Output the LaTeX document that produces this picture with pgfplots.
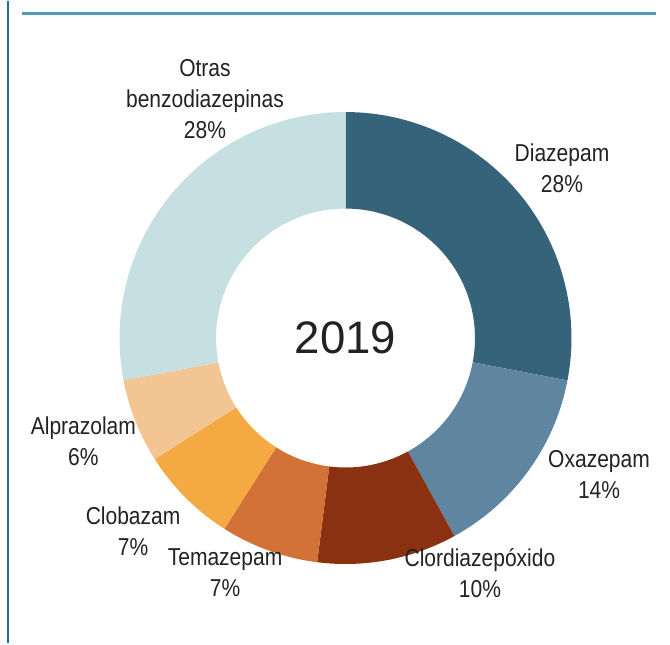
\documentclass[border=0pt]{standalone}
\usepackage{pgfplots}
\usepackage{pgfplotstable}
\pgfplotsset{compat=1.18}
\usepackage{fontspec}
\setmainfont{Liberation Sans}
\newfontfamily\condfont[FakeStretch=0.86]{Liberation Sans}

\definecolor{c0}{HTML}{35637A}
\definecolor{c1}{HTML}{5F85A1}
\definecolor{c2}{HTML}{8A3112}
\definecolor{c3}{HTML}{D27236}
\definecolor{c4}{HTML}{F4A942}
\definecolor{c5}{HTML}{F2C593}
\definecolor{c6}{HTML}{C5DFE2}
\definecolor{txt}{HTML}{222222}
\definecolor{frameblue}{HTML}{1A6FA6}
\definecolor{ruleblue}{HTML}{4F9DBA}

% share (%) per substance, clockwise from 12 o'clock; lx, ly = label centre
\pgfplotstableread[col sep=comma]{
name,value,lx,ly
Diazepam,28,0.958,0.752
Oxazepam,14,1.122,-0.606
Clordiazepóxido,10,0.595,-1.040
Temazepam,7,-0.533,-1.040
Clobazam,7,-0.940,-0.854
Alprazolam,6,-1.160,-0.456
{Otras\\benzodiazepinas},28,-0.622,1.058
}\sharetable

% start / end angle of every slice
\pgfplotstablegetrowsof{\sharetable}%
\pgfmathtruncatemacro{\lastrow}{\pgfplotsretval-1}%
\def\cumul{0}%
\pgfplotsforeachungrouped \i in {0,...,\lastrow}{%
  \pgfplotstablegetelem{\i}{value}\of\sharetable
  \let\val\pgfplotsretval
  \pgfmathsetmacro{\sa}{90-3.6*\cumul}%
  \pgfmathsetmacro{\cumul}{\cumul+\val}%
  \pgfmathsetmacro{\sb}{90-3.6*\cumul}%
  \expandafter\xdef\csname sa\i\endcsname{\sa}%
  \expandafter\xdef\csname sb\i\endcsname{\sb}%
  \expandafter\xdef\csname sv\i\endcsname{\val}%
  \pgfplotstablegetelem{\i}{lx}\of\sharetable
  \expandafter\xdef\csname lx\i\endcsname{\pgfplotsretval}%
  \pgfplotstablegetelem{\i}{ly}\of\sharetable
  \expandafter\xdef\csname ly\i\endcsname{\pgfplotsretval}%
  \pgfplotstablegetelem{\i}{name}\of\sharetable
  \expandafter\global\expandafter\let\csname ln\i\endcsname\pgfplotsretval
}

\def\rin{0.573}

\begin{document}
\begin{tikzpicture}
\begin{axis}[
  hide axis,
  scale only axis,
  axis equal image,
  width=335bp,
  xmin=-1.529, xmax=1.436,
  ymin=-1.35, ymax=1.491,
  clip=false,
]
\path (rel axis cs:0,0) rectangle (rel axis cs:1,1);
% frame pieces
\draw[frameblue, line width=1bp] (-1.493,1.491) -- (-1.493,-1.35);
\draw[ruleblue, line width=1.3bp] (-1.431,1.436) -- (1.374,1.436);

\pgfplotsinvokeforeach{0,...,6}{
  \fill[c#1]
    ({cos(\csname sa#1\endcsname)},{sin(\csname sa#1\endcsname)})
    arc[start angle=\csname sa#1\endcsname, end angle=\csname sb#1\endcsname, radius=1]
    -- ({\rin*cos(\csname sb#1\endcsname)},{\rin*sin(\csname sb#1\endcsname)})
    arc[start angle=\csname sb#1\endcsname, end angle=\csname sa#1\endcsname, radius=\rin]
    -- cycle;
  \node[align=center, text=txt,
        font=\condfont\fontsize{11bp}{14bp}\selectfont]
    at (\csname lx#1\endcsname,\csname ly#1\endcsname)
    {\csname ln#1\endcsname\\\csname sv#1\endcsname\%};
}
\node[text=txt, font=\fontsize{20.5bp}{24bp}\selectfont] at (0,0) {2019};
\end{axis}
\end{tikzpicture}
\end{document}
